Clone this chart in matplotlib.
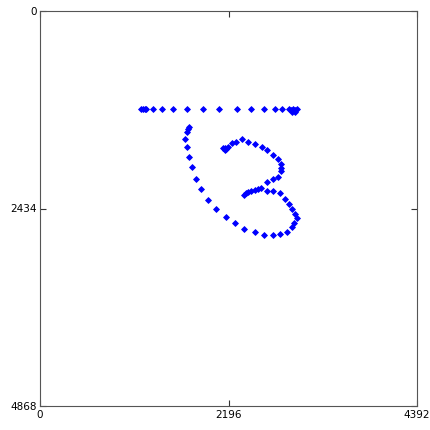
import matplotlib
matplotlib.use("Agg")
import matplotlib.pyplot as plt

# pen samples of the stroke (x, y in tablet units, y grows downward)
top_x = [1177, 1196, 1223, 1235, 1313, 1425, 1553, 1709, 1902, 2085, 2299, 2458,
         2610, 2741, 2823, 2904, 2928, 2940, 2951, 2965, 2971, 2990]
top_y = [1210, 1210, 1210, 1210, 1210, 1210, 1210, 1210, 1210, 1210, 1210, 1210,
         1210, 1210, 1210, 1210, 1215, 1240, 1210, 1240, 1215, 1210]

loop_x = [1739, 1728, 1709, 1689, 1709, 1739, 1767, 1817, 1872, 1954, 2054, 2167,
          2266, 2380, 2505, 2613, 2718, 2796, 2874, 2932, 2963, 2991, 2971, 2932,
          2901, 2854, 2796, 2718, 2641]
loop_y = [1426, 1454, 1487, 1577, 1672, 1796, 1926, 2070, 2197, 2326, 2440, 2539,
          2609, 2690, 2727, 2761, 2761, 2752, 2727, 2658, 2616, 2555, 2505, 2444,
          2382, 2321, 2247, 2218, 2218]

mid_x = [2380, 2400, 2427, 2458, 2505, 2543, 2578, 2641, 2718, 2776, 2808, 2808,
         2804, 2776, 2718, 2641, 2583, 2505, 2427, 2350, 2283, 2233, 2194, 2155,
         2135, 2155, 2170]
mid_y = [2268, 2247, 2227, 2218, 2206, 2194, 2178, 2111, 2074, 2042, 1972, 1931,
         1889, 1828, 1775, 1713, 1672, 1643, 1611, 1581, 1611, 1630, 1672, 1692,
         1685, 1713, 1700]

xs = top_x + loop_x + mid_x
ys = top_y + loop_y + mid_y

fig = plt.figure(figsize=(4.31, 4.30), dpi=100)
ax = fig.add_axes([40 / 431, 24 / 430, 377 / 431, 395 / 430])
ax.plot(xs, ys, linestyle="none", marker="D", markersize=3, color="#0000ff",
        markeredgewidth=0.6)

ax.set_xlim(0, 4392)
ax.set_ylim(4868, 0)
ax.set_xticks([0, 2196, 4392])
ax.set_yticks([0, 2434, 4868])
ax.tick_params(direction="in", length=4, width=0.8, labelsize=7.5, pad=2,
               top=True, right=True, colors="#333333", labelcolor="black")
ax.tick_params(axis="x", pad=3)
for s in ax.spines.values():
    s.set_color("#555555")
    s.set_linewidth(0.8)

fig.savefig("out.png", dpi=100)
